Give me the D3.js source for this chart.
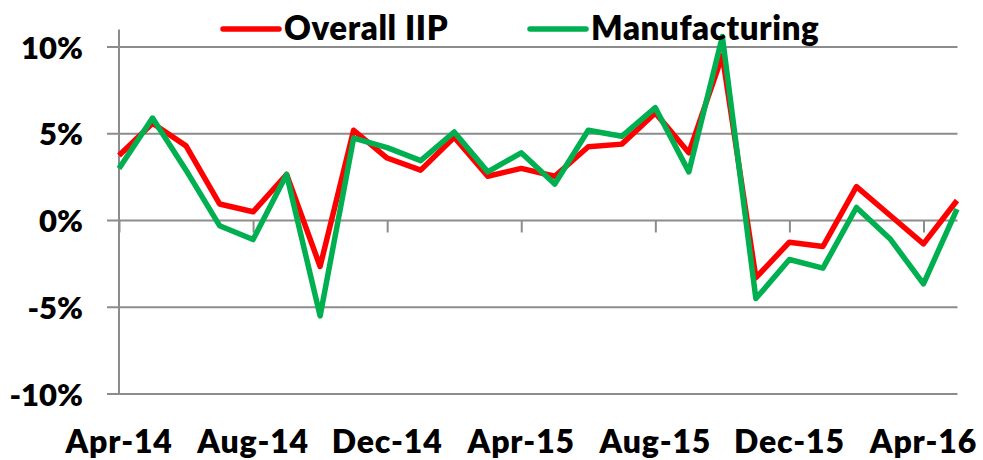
<!DOCTYPE html>
<html>
<head>
<meta charset="utf-8">
<script src="https://cdn.jsdelivr.net/npm/d3@7"></script>
<style>
  body { margin: 0; background: #fff; }
  text { font-family: Lato, "Open Sans", sans-serif; font-weight: 800; fill: #000; }
</style>
</head>
<body>
<svg width="983" height="460"></svg>
<script>
// months Apr-14 .. May-16
var months = ["Apr-14","May-14","Jun-14","Jul-14","Aug-14","Sep-14","Oct-14","Nov-14","Dec-14",
  "Jan-15","Feb-15","Mar-15","Apr-15","May-15","Jun-15","Jul-15","Aug-15","Sep-15","Oct-15",
  "Nov-15","Dec-15","Jan-16","Feb-16","Mar-16","Apr-16","May-16"];

var overall = [3.75, 5.6, 4.3, 0.95, 0.5, 2.65, -2.65, 5.2, 3.6,
  2.9, 4.8, 2.55, 3.0, 2.55, 4.25, 4.4, 6.2, 3.9, 9.5,
  -3.3, -1.25, -1.5, 1.95, 0.3, -1.35, 1.15];

var manufacturing = [3.0, 5.9, 2.9, -0.3, -1.1, 2.65, -5.5, 4.75, 4.2,
  3.45, 5.1, 2.8, 3.9, 2.1, 5.2, 4.85, 6.5, 2.8, 10.6,
  -4.5, -2.25, -2.75, 0.75, -1.05, -3.65, 0.65];

var yTicks = [-10, -5, 0, 5, 10];
var xLabels = ["Apr-14","Aug-14","Dec-14","Apr-15","Aug-15","Dec-15","Apr-16"];

var series = [
  {name: "Overall IIP", values: overall, color: "#ff0000"},
  {name: "Manufacturing", values: manufacturing, color: "#00b050"}
];

var svg = d3.select("svg");
var gray = "#8c8c8c";

var x = d3.scalePoint().domain(months).range([119, 957]).padding(0);
var y = d3.scaleLinear().domain([-10, 11]).range([394, 29.6]);

// gridlines
svg.append("g")
  .selectAll("line")
  .data(yTicks)
  .enter()
  .append("line")
  .attr("x1", 107)
  .attr("x2", 957.5)
  .attr("y1", function (d) { return y(d); })
  .attr("y2", function (d) { return y(d); })
  .style("stroke", gray)
  .style("stroke-width", 2);

// y axis line
svg.append("line")
  .attr("x1", 119).attr("x2", 119)
  .attr("y1", y(11)).attr("y2", y(-10))
  .style("stroke", gray)
  .style("stroke-width", 2);

// y tick labels
var yAxis = d3.axisLeft(y)
  .tickValues(yTicks)
  .tickSize(0)
  .tickPadding(0)
  .tickFormat(function (d) { return d + "%"; });

var yg = svg.append("g").attr("transform", "translate(83,0)").call(yAxis);
yg.select(".domain").remove();
yg.selectAll("text")
  .attr("font-size", 31)
  .attr("font-family", null)
  .attr("dy", "0.36em");

// category ticks on the 0% line
var xAxis = d3.axisBottom(x)
  .tickValues(xLabels)
  .tickSize(12)
  .tickFormat("");

var xg = svg.append("g").attr("transform", "translate(0," + y(0) + ")").call(xAxis);
xg.select(".domain").remove();
xg.selectAll("line").style("stroke", gray).style("stroke-width", 2);

// bottom labels
svg.append("g")
  .selectAll("text")
  .data(xLabels)
  .enter()
  .append("text")
  .attr("x", function (d) { return x(d); })
  .attr("y", 453)
  .attr("text-anchor", "middle")
  .attr("font-size", 32)
  .style("letter-spacing", "0.8px")
  .text(function (d) { return d; });

// series lines
var line = d3.line()
  .x(function (d, i) { return x(months[i]); })
  .y(function (d) { return y(d); });

svg.append("g")
  .selectAll("path")
  .data(series)
  .enter()
  .append("path")
  .attr("d", function (d) { return line(d.values); })
  .style("fill", "none")
  .style("stroke", function (d) { return d.color; })
  .style("stroke-width", 5.5)
  .style("stroke-linejoin", "round");

// legend
var legendX = [223, 530];
var legend = svg.append("g")
  .selectAll("g")
  .data(series)
  .enter()
  .append("g")
  .attr("transform", function (d, i) { return "translate(" + legendX[i] + ",29)"; });

legend.append("line")
  .attr("x1", 0).attr("x2", 56)
  .style("stroke", function (d) { return d.color; })
  .style("stroke-width", 5.5)
  .style("stroke-linecap", "round");

legend.append("text")
  .attr("x", 61)
  .attr("y", 10.5)
  .attr("font-size", 33)
  .style("letter-spacing", "0.6px")
  .text(function (d) { return d.name; });
</script>
</body>
</html>
